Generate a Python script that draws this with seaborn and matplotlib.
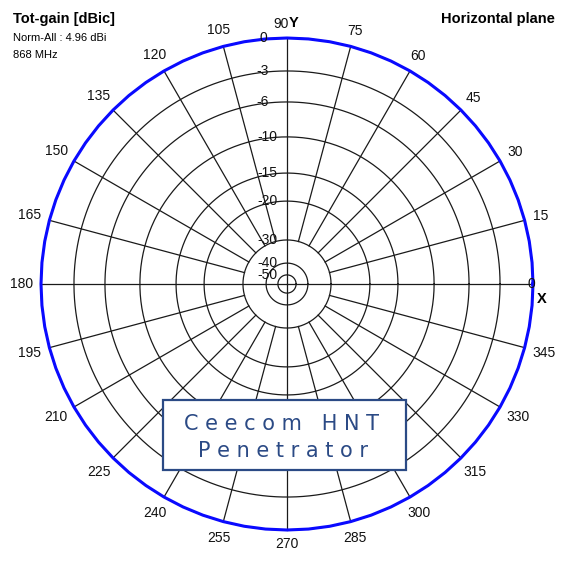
import numpy as np
import pandas as pd
import matplotlib
matplotlib.use('Agg')
import matplotlib.pyplot as plt
import seaborn as sns
from matplotlib.patches import Rectangle

# gain rings (dB) and where they sit on the chart (fraction of the outer ring)
ring_db = [0, -3, -6, -10, -15, -20, -30, -40, -50]
ring_r = [1.0, 0.866, 0.740, 0.598, 0.451, 0.337, 0.179, 0.085, 0.037]

# azimuth labels every 15 degrees
az_ticks = list(range(0, 360, 15))

# horizontal plane pattern, 5 degree steps, normalised gain (dB)
pattern_az = list(range(0, 365, 5))
pattern_db = [0.0, 0.0, 0.0, 0.0, 0.0, 0.0, 0.0, 0.0, 0.0, 0.0, 0.0, 0.0,
              0.0, 0.0, 0.0, 0.0, 0.0, 0.0, 0.0, 0.0, 0.0, 0.0, 0.0, 0.0,
              0.0, 0.0, 0.0, 0.0, 0.0, 0.0, 0.0, 0.0, 0.0, 0.0, 0.0, 0.0,
              0.0, 0.0, 0.0, 0.0, 0.0, 0.0, 0.0, 0.0, 0.0, 0.0, 0.0, 0.0,
              0.0, 0.0, 0.0, 0.0, 0.0, 0.0, 0.0, 0.0, 0.0, 0.0, 0.0, 0.0,
              0.0, 0.0, 0.0, 0.0, 0.0, 0.0, 0.0, 0.0, 0.0, 0.0, 0.0, 0.0,
              0.0]

W, H = 564, 563
plt.rcParams['font.family'] = ['Liberation Sans', 'DejaVu Sans']


def db2r(db):
    return np.interp(db, ring_db[::-1], ring_r[::-1])


def px(x, y):
    return x / W, 1 - y / H


fig = plt.figure(figsize=(W / 100, H / 100), dpi=100)
cx, cy, R = 287, 284, 246
ax = fig.add_axes([(cx - R) / W, (H - cy - R) / H, 2 * R / W, 2 * R / H], projection='polar')
ax.set_ylim(0, 1)
ax.set_xticks([])
ax.set_yticks([])
ax.grid(False)
ax.spines['polar'].set_visible(False)

grid_kw = dict(color='#1a1a1a', lw=0.9, clip_on=False, zorder=1)
th = np.linspace(0, 2 * np.pi, 400)
for r in ring_r:
    ax.plot(th, np.full_like(th, r), **grid_kw)
for a in az_ticks:
    t = np.deg2rad(a)
    r0 = 0 if a % 90 == 0 else ring_r[6]
    ax.plot([t, t], [r0, 1], **grid_kw)

df = pd.DataFrame({'theta': np.deg2rad(pattern_az), 'r': db2r(pattern_db)})
sns.lineplot(data=df, x='theta', y='r', ax=ax, color='#0a0aff', lw=2.2,
             sort=False, estimator=None, zorder=3, clip_on=False)
ax.set_xlabel('')
ax.set_ylabel('')

# azimuth labels
for a in az_ticks:
    t = np.deg2rad(a)
    lab = str(a)
    w = 7 * len(lab)
    d = 9 + 0.5 * abs(w * np.cos(t)) + 5 * abs(np.sin(t))
    dx, dy = d * np.cos(t), d * np.sin(t)
    if a == 0:
        dx, dy = -2, 0
    if a == 90:
        dx = -6
    ax.annotate(lab, xy=(t, 1), xytext=(dx, dy),
                textcoords='offset pixels', ha='center', va='center',
                fontsize=10, color='#111111', annotation_clip=False)

# ring labels along the 90 axis
for db, r in zip(ring_db, ring_r):
    off = -24 if db > -10 else -20
    ax.annotate(str(db), xy=(np.pi / 2, r), xytext=(off, 0),
                textcoords='offset pixels', ha='center', va='center',
                fontsize=10, color='#111111', annotation_clip=False)

fig.text(*px(289, 23), 'Y', fontsize=10.5, fontweight='bold', ha='left', va='center')
fig.text(*px(542, 299), 'X', fontsize=10.5, fontweight='bold', ha='center', va='center')

fig.text(*px(13, 19), 'Tot-gain [dBic]', fontsize=10.5, fontweight='bold', va='center')
fig.text(*px(13, 38), 'Norm-All : 4.96 dBi', fontsize=8, va='center')
fig.text(*px(13, 55), '868 MHz', fontsize=8, va='center')
fig.text(*px(555, 19), 'Horizontal plane', fontsize=10.5, fontweight='bold', ha='right', va='center')

# product label box
fig.patches.append(Rectangle(px(163, 470), 243 / W, 70 / H, transform=fig.transFigure,
                             facecolor='white', edgecolor='#2b4a85', lw=1.6, zorder=5))
fig.text(*px(282, 424), 'C e e c o m   H N T', fontsize=15, color='#2b4a85',
         ha='center', va='center', family=['DejaVu Sans'], zorder=6)
fig.text(*px(283, 451), 'P e n e t r a t o r', fontsize=15, color='#2b4a85',
         ha='center', va='center', family=['DejaVu Sans'], zorder=6)

fig.savefig('out.png', dpi=100)
